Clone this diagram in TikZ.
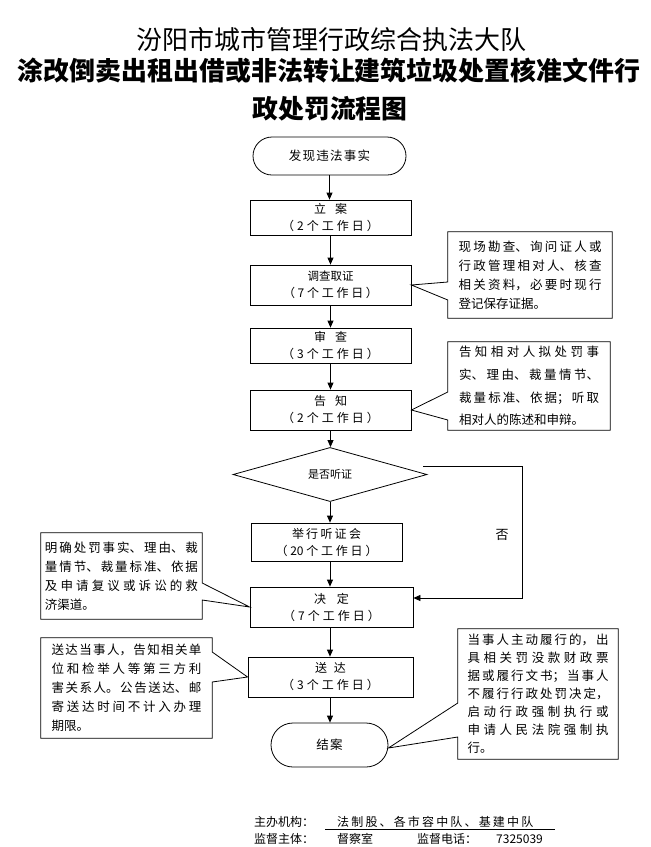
\documentclass[tikz,border=0pt]{standalone}
\usepackage{fontspec}
\setmainfont{Noto Sans CJK SC}
\newfontfamily\spc[LetterSpace=10]{Noto Sans CJK SC}
\newfontfamily\spcb[LetterSpace=18]{Noto Sans CJK SC}
\usetikzlibrary{arrows.meta,shapes.geometric,calc}
\newcommand{\cotxt}[3]{\parbox{#1}{\fontsize{12.5pt}{#2}\selectfont\XeTeXlinebreaklocale "zh"\XeTeXlinebreakskip=0pt plus 8pt\relax\hbadness=10000\tolerance=10000\relax #3}}
\newcommand{\pday}[2]{\makebox[#1][s]{（\hfill #2\hfill 个\hfill 工\hfill 作\hfill 日\hfill ）}}
\newcommand{\twoch}[2]{\makebox[33pt][s]{#1\hfill #2}}
\begin{document}
\begin{tikzpicture}[x=1pt,y=-1pt,
  box/.style={draw, line width=0.8pt, minimum width=161pt, minimum height=40pt, inner sep=0pt, align=center, font=\fontsize{12pt}{17pt}\selectfont},
  term/.style={draw, line width=0.8pt, rounded corners=19pt, minimum width=153pt, minimum height=38pt, inner sep=0pt, font=\spc\fontsize{12.5pt}{15pt}\selectfont},
  dia/.style={diamond, draw, line width=0.8pt, minimum width=194pt, minimum height=43pt, inner sep=0pt, font=\fontsize{11pt}{13pt}\selectfont},
  arr/.style={-{Triangle[length=7pt,width=6pt]}, line width=0.8pt},
  co/.style={inner sep=0pt, draw=none},
  callout/.style={draw, line width=0.8pt},
  ft/.style={inner sep=0pt, anchor=west, font=\fontsize{12pt}{14pt}\selectfont}]
\fill[white] (0,0) rectangle (651,847);
\useasboundingbox (0,0) rectangle (651,847);
% titles
\node[font=\fontsize{26pt}{30pt}\selectfont] (t1) at (331,40) {汾阳市城市管理行政综合执法大队};
\node (t2) at (329,71) {\resizebox{622pt}{!}{\bfseries\fontsize{28.3pt}{32pt}\selectfont 涂改倒卖出租出借或非法转让建筑垃圾处置核准文件行}};
\node (t3) at (330,109) {\resizebox{155pt}{!}{\bfseries\fontsize{26.5pt}{30pt}\selectfont 政处罚流程图}};
% main flow
\node[term] (fx) at (329.5,156) {发现违法事实};
\node[box, minimum height=35pt] (la) at (330.5,217.5) {\twoch{立}{案}\\\pday{97pt}{2}};
\node[box] (dc) at (330.5,285) {{\fontsize{11.5pt}{17pt}\selectfont 调查取证}\\\pday{95pt}{7}};
\node[box, minimum height=35pt] (sc) at (330.5,345.5) {\twoch{审}{查}\\\pday{97pt}{3}};
\node[box] (gz) at (330.5,410) {\twoch{告}{知}\\\pday{97pt}{2}};
\node[dia] (dm) at (330,474.5) {是否听证};
\node[box, minimum width=151pt, minimum height=38pt] (ting) at (326.5,542) {\makebox[69pt][s]{举\hfill 行\hfill 听\hfill 证\hfill 会}\\\pday{102pt}{20}};
\node[box, minimum width=163pt] (jd) at (331.5,607) {\makebox[35pt][s]{决\hfill 定}\\\pday{97pt}{7}};
\node[box, minimum width=165pt] (sd) at (330.5,677) {\makebox[31pt][s]{送\hfill 达}\\\pday{97pt}{3}};
\node[term, minimum width=117pt, minimum height=44pt, rounded corners=22pt] (ja) at (329.5,745) {结案};
% arrows
\draw[arr] (fx.south) -- (fx.south |- la.north);
\draw[arr] (la.south) -- (la.south |- dc.north);
\draw[arr] (dc.south) -- (dc.south |- sc.north);
\draw[arr] (sc.south) -- (sc.south |- gz.north);
\draw[arr] (gz.south) -- (gz.south |- dm.north);
\draw[arr] (dm.south) -- (dm.south |- ting.north);
\draw[arr] (dm.south |- ting.south) -- (dm.south |- jd.north);
\draw[arr] (dm.south |- jd.south) -- (dm.south |- sd.north);
\draw[arr] (dm.south |- sd.south) -- (dm.south |- ja.north);
% no branch
\coordinate (ns) at (423,466);
\coordinate (ne) at (522,466);
\draw[arr] (ns) -- (ne) |- (jd.east |- 0,598);
\node[font=\fontsize{13pt}{15pt}\selectfont] (no) at (502,535) {否};
% callouts
\node[co, minimum width=164pt, minimum height=86pt] (c1) at (530,275) {\cotxt{143pt}{19pt}{现场勘查、询问证人或\break 行政管理相对人、核查\break 相关资料，必要时现行\break 登记保存证据。}};
\draw[callout] (c1.north west) -- (c1.north east) -- (c1.south east) -- (c1.south west) -- (c1.west |- 0,300) -- (dc.east) -- (c1.west |- 0,282) -- cycle;
\node[co, minimum width=162pt, minimum height=88pt] (c2) at (529,386) {\cotxt{140pt}{22.7pt}{告知相对人拟处罚事\break 实、理由、裁量情节、\break 裁量标准、依据；听取\break 相对人的陈述和申辩。}};
\draw[callout] (c2.north west) -- (c2.north east) -- (c2.south east) -- (c2.south west) -- (c2.west |- 0,420) -- (gz.east) -- (c2.west |- 0,392) -- cycle;
\node[co, minimum width=161pt, minimum height=86pt] (c3) at (121.5,576) {\cotxt{153pt}{19pt}{明确处罚事实、理由、裁\break 量情节、裁量标准、依据\break 及申请复议或诉讼的救\break 济渠道。}};
\draw[callout] (c3.north west) -- (c3.north east) -- (c3.east |- 0,583) -- (jd.west) -- (c3.east |- 0,600) -- (c3.south east) -- (c3.south west) -- cycle;
\node[co, minimum width=160pt, minimum height=130pt] (c4) at (538,694) {\cotxt{141pt}{18pt}{当事人主动履行的，出\break 具相关罚没款财政票\break 据或履行文书；当事人\break 不履行行政处罚决定，\break 启动行政强制执行或\break 申请人民法院强制执\break 行。}};
\draw[callout] (c4.north west) -- (c4.north east) -- (c4.south east) -- (c4.south west) -- (c4.west |- 0,737) -- ($(ja.east)+(0,3)$) -- (c4.west |- 0,703) -- cycle;
\node[co, minimum width=171pt, minimum height=100pt] (c5) at (126.5,688) {\cotxt{150pt}{19pt}{送达当事人，告知相关单\break 位和检举人等第三方利\break 害关系人。公告送达、邮\break 寄送达时间不计入办理\break 期限。}};
\draw[callout] (c5.north west) -- (c5.north east) -- (c5.east |- 0,652) -- (sd.west) -- (c5.east |- 0,682) -- (c5.south east) -- (c5.south west) -- cycle;
% footer
\node[ft] (f1) at (254,822) {主办机构：};
\node[ft] (f2) at (337,822) {\spcb\fontsize{12pt}{14pt}\selectfont 法制股、各市容中队、基建中队};
\coordinate (u1) at (325,829);
\coordinate (u2) at (555,829);
\draw[line width=0.8pt] (u1) -- (u2);
\node[ft] (f3) at (254,839) {监督主体：};
\node[ft] (f4) at (337,839) {督察室};
\node[ft] (f5) at (417,839) {监督电话：};
\node[ft] (f6) at (496,839) {7325039};
\end{tikzpicture}
\end{document}
